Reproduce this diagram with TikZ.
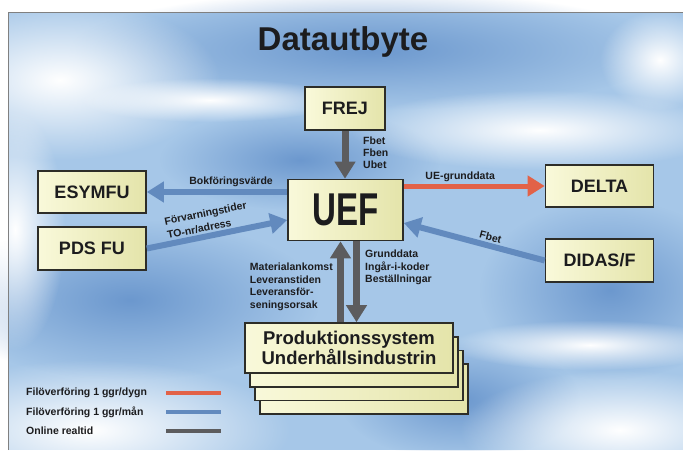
\documentclass[tikz,border=0pt]{standalone}
\usepackage{fontspec}
\setmainfont{Liberation Sans}
\usepackage{graphicx}
\usetikzlibrary{arrows.meta,positioning,fadings}
\tikzfading[name=mjukt, inner color=transparent!0, outer color=transparent!100]
\definecolor{himmel}{RGB}{166,199,232}
\definecolor{himmelmork}{RGB}{108,152,206}
\definecolor{boxljus}{RGB}{249,249,218}
\definecolor{boxmork}{RGB}{228,228,170}
\definecolor{boxkant}{RGB}{45,45,40}
\definecolor{textmork}{RGB}{28,28,30}
\definecolor{rodpil}{RGB}{226,98,72}
\definecolor{blapil}{RGB}{98,138,190}
\definecolor{grapil}{RGB}{92,92,94}
\tikzset{
  >=latex,
  moln/.style={path fading=mjukt},
  sysbox/.style={draw=boxkant, line width=1.6pt, left color=boxljus, right color=boxmork,
    text=textmork, font=\bfseries\fontsize{18}{20}\selectfont,
    minimum width=108pt, minimum height=42pt, inner sep=0pt},
  arkbox/.style={sysbox, minimum width=208pt, minimum height=50pt},
  lbl/.style={font=\bfseries\fontsize{10.5}{12.5}\selectfont, text=textmork,
    inner sep=1pt, align=left},
  pil/.style={line width=6pt, -{Triangle[width=20pt,length=17pt]}},
  rod/.style={pil, rodpil, line width=5pt},
  bla/.style={pil, blapil},
  gra/.style={pil, grapil, line width=7pt}
}
\begin{document}
\begin{tikzpicture}[x=1pt,y=-1pt]
  \useasboundingbox (0,0) rectangle (683,450);
  \fill[himmel] (8,12) rectangle (683,450);
  \fill[himmelmork, moln] (370,50) ellipse [x radius=300, y radius=60];
  \fill[himmelmork, moln] (130,300) ellipse [x radius=190, y radius=80];
  \fill[himmelmork, moln] (610,290) ellipse [x radius=130, y radius=90];
  \fill[himmelmork, moln] (460,400) ellipse [x radius=120, y radius=60];
  \fill[himmelmork, moln] (300,160) ellipse [x radius=140, y radius=50];
  \fill[white, moln] (60,80) ellipse [x radius=160, y radius=80];
  \fill[white, moln] (540,130) ellipse [x radius=190, y radius=40];
  \fill[white, moln] (90,430) ellipse [x radius=200, y radius=70];
  \fill[white, moln] (620,430) ellipse [x radius=160, y radius=60];
  \fill[white, moln] (15,230) ellipse [x radius=50, y radius=120];
  \fill[white, moln] (590,345) ellipse [x radius=140, y radius=25];
  \fill[white, moln] (210,100) ellipse [x radius=130, y radius=22];
  \fill[white, moln] (660,60) ellipse [x radius=60, y radius=50];
  \draw[gray, line width=0.8pt] (8,450) -- (8,12) -- (683,12);

  \node[font=\bfseries\fontsize{33}{36}\selectfont, text=textmork] (rubrik) at (343,42) {Datautbyte};

  \node[sysbox, minimum width=80pt, minimum height=43pt] (frej) at (345,108.5) {FREJ};
  \node[sysbox, minimum width=115pt, minimum height=61pt,
    font=\bfseries\fontsize{46}{50}\selectfont] (uef) at (345.5,210) {\scalebox{0.72}[1]{UEF}};
  \node[sysbox] (esymfu) at (92,192) {ESYMFU};
  \node[sysbox, minimum height=43pt] (pdsfu) at (92,248.5) {PDS FU};
  \node[sysbox] (delta) at (599.5,186) {DELTA};
  \node[sysbox, minimum height=43pt] (didas) at (599.5,260.5) {DIDAS/F};

  \foreach \i in {3,2,1}
    \node[arkbox] (ark\i) at (349+5*\i,348+13.7*\i) {};
  \node[arkbox, align=center, font=\bfseries\fontsize{18.5}{19.5}\selectfont]
    (prod) at (349,348) {Produktionssystem\\Underhållsindustrin};

  \draw[gra] (frej.south) -- (frej.south|-uef.north);
  \node[lbl, anchor=north west, font=\bfseries\fontsize{10.5}{12}\selectfont] (frejtxt) at (362,136) {Fbet\\Fben\\Ubet};

  \draw[bla] (uef.west|-esymfu.east) -- (esymfu.east)
    node[lbl, pos=0.4, above=1pt] (bokf) {Bokföringsvärde};
  \draw[bla] (pdsfu.east) -- ([yshift=-10pt]uef.west)
    node[lbl, pos=0.45, above=1pt, sloped, font=\bfseries\fontsize{10.5}{14}\selectfont] (forv) {Förvarningstider\\TO-nr/adress};
  \draw[rod] (uef.east|-delta.west) -- (delta.west)
    node[lbl, pos=0.4, above=1pt] (uegrund) {UE-grunddata};
  \draw[bla] (didas.west) -- ([yshift=-13pt]uef.east)
    node[lbl, pos=0.4, above=1pt, sloped] (fbet) {Fbet};

  \coordinate (upp) at ([xshift=-5pt]uef.south);
  \coordinate (ned) at ([xshift=11pt]uef.south);
  \draw[gra] (upp|-prod.north) -- (upp);
  \draw[gra] (ned) -- (ned|-prod.north);
  \node[lbl, anchor=north east] (mattxt) at (334,262) {Materialankomst\\Leveranstiden\\Leveransför-\\seningsorsak};
  \node[lbl, anchor=north west] (grundtxt) at (364,249) {Grunddata\\Ingår-i-koder\\Beställningar};

  \foreach \txt/\farg/\y in {{Filöverföring 1 ggr/dygn}/rodpil/393,
      {Filöverföring 1 ggr/mån}/blapil/412, {Online realtid}/grapil/431}{
    \node[lbl, anchor=west] at (25,\y) {\txt};
    \draw[\farg, line width=4pt] (166,\y) -- (221,\y);
  }
\end{tikzpicture}
\end{document}
